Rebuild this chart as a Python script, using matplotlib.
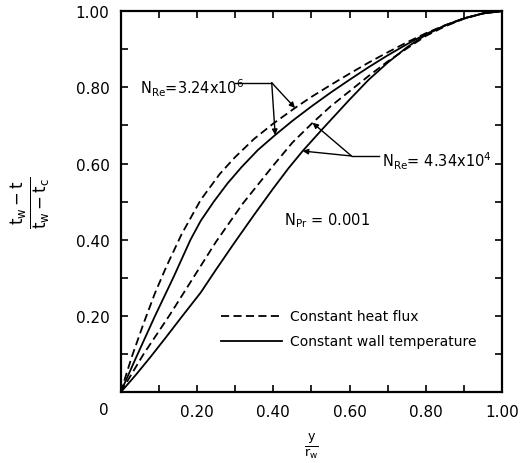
import numpy as np
import matplotlib
matplotlib.use("Agg")
import matplotlib.pyplot as plt
from matplotlib.ticker import MultipleLocator

# curves (y/r_w, temperature ratio)
# N_Re = 3.24x10^6, constant heat flux
x_hf_hi = [0, 0.03, 0.06, 0.09, 0.12, 0.16, 0.21, 0.26, 0.30, 0.35, 0.40, 0.457, 0.50, 0.55, 0.60,
           0.65, 0.70, 0.75, 0.80, 0.85, 0.90, 0.95, 1.0]
y_hf_hi = [0, 0.095, 0.18, 0.26, 0.33, 0.415, 0.505, 0.573, 0.617, 0.665, 0.705, 0.746, 0.775, 0.806, 0.836,
           0.865, 0.892, 0.918, 0.942, 0.963, 0.981, 0.994, 1.0]
# N_Re = 3.24x10^6, constant wall temperature
x_wt_hi = [0, 0.04, 0.09, 0.14, 0.183, 0.21, 0.244, 0.28, 0.318, 0.36, 0.405, 0.45, 0.50, 0.55, 0.60,
           0.65, 0.70, 0.75, 0.80, 0.85, 0.90, 0.95, 1.0]
y_wt_hi = [0, 0.09, 0.20, 0.305, 0.40, 0.45, 0.50, 0.548, 0.592, 0.636, 0.675, 0.712, 0.75, 0.786, 0.82,
           0.853, 0.884, 0.913, 0.94, 0.962, 0.981, 0.994, 1.0]
# N_Re = 4.34x10^4, constant heat flux
x_hf_lo = [0, 0.06, 0.13, 0.19, 0.25, 0.32, 0.40, 0.45, 0.503, 0.55, 0.60, 0.65, 0.70, 0.75, 0.80,
           0.85, 0.90, 0.95, 1.0]
y_hf_lo = [0, 0.10, 0.205, 0.30, 0.395, 0.495, 0.595, 0.655, 0.707, 0.75, 0.79, 0.83, 0.868, 0.902, 0.935,
           0.96, 0.98, 0.994, 1.0]
# N_Re = 4.34x10^4, constant wall temperature
x_wt_lo = [0, 0.04, 0.08, 0.12, 0.16, 0.21, 0.25, 0.30, 0.35, 0.40, 0.44, 0.477, 0.53, 0.60, 0.65,
           0.70, 0.75, 0.80, 0.85, 0.90, 0.95, 1.0]
y_wt_lo = [0, 0.046, 0.095, 0.146, 0.198, 0.262, 0.322, 0.395, 0.466, 0.535, 0.588, 0.633, 0.692, 0.768, 0.82,
           0.865, 0.905, 0.938, 0.962, 0.981, 0.994, 1.0]

tick_vals = [0.2, 0.4, 0.6, 0.8, 1.0]
tick_labels = ["0.20", "0.40", "0.60", "0.80", "1.00"]

dash = (0, (4.5, 2.4))
lw = 1.3

fig = plt.figure(figsize=(5.31, 4.64), dpi=100)
ax = fig.add_axes([0.227, 0.152, 0.719, 0.822])

ax.plot(x_hf_hi, y_hf_hi, color="k", lw=lw, ls=dash)
ax.plot(x_wt_hi, y_wt_hi, color="k", lw=lw)
ax.plot(x_hf_lo, y_hf_lo, color="k", lw=lw, ls=dash)
ax.plot(x_wt_lo, y_wt_lo, color="k", lw=lw)

ax.set_xlim(0, 1)
ax.set_ylim(0, 1)
ax.set_xticks(tick_vals)
ax.set_xticklabels(tick_labels)
ax.set_yticks(tick_vals)
ax.set_yticklabels(tick_labels)
ax.xaxis.set_minor_locator(MultipleLocator(0.1))
ax.yaxis.set_minor_locator(MultipleLocator(0.1))
ax.tick_params(which="both", direction="in", top=True, right=True, length=5, width=1.2,
               labelsize=11, pad=8)
for s in ax.spines.values():
    s.set_linewidth(1.6)
ax.text(-0.045, -0.045, "0", fontsize=11, ha="center", va="center", clip_on=False)

# labels
ax.text(-0.235, 0.5, r"$\frac{\mathsf{t_w - t}}{\mathsf{t_w - t_c}}$", rotation=90, fontsize=17,
        ha="center", va="center", transform=ax.transAxes)
ax.text(0.5, -0.14, r"$\frac{\mathsf{y}}{\mathsf{r_w}}$", fontsize=13, ha="center", va="center",
        transform=ax.transAxes)

# annotations
arr = dict(arrowstyle="-|>", color="k", lw=1.0, mutation_scale=8, shrinkA=0, shrinkB=0)
ax.text(0.05, 0.80, r"N$_{\mathrm{Re}}$=3.24x10$^{6}$", fontsize=10.5, va="center")
ax.plot([0.30, 0.396], [0.812, 0.812], color="k", lw=1.0)
ax.annotate("", xy=(0.457, 0.746), xytext=(0.396, 0.812), arrowprops=arr)
ax.annotate("", xy=(0.405, 0.675), xytext=(0.396, 0.812), arrowprops=arr)

ax.text(0.685, 0.61, r"N$_{\mathrm{Re}}$= 4.34x10$^{4}$", fontsize=10.5, va="center")
ax.plot([0.605, 0.678], [0.62, 0.62], color="k", lw=1.0)
ax.annotate("", xy=(0.503, 0.707), xytext=(0.605, 0.62), arrowprops=arr)
ax.annotate("", xy=(0.477, 0.633), xytext=(0.605, 0.62), arrowprops=arr)

ax.text(0.427, 0.454, r"N$_{\mathrm{Pr}}$ = 0.001", fontsize=10.5, va="center")

# legend drawn by hand
ax.plot([0.263, 0.423], [0.20, 0.20], color="k", lw=lw, ls=dash)
ax.text(0.445, 0.20, "Constant heat flux", fontsize=10, va="center")
ax.plot([0.263, 0.423], [0.135, 0.135], color="k", lw=lw)
ax.text(0.445, 0.135, "Constant wall temperature", fontsize=10, va="center")

fig.savefig("out.png", dpi=100)
